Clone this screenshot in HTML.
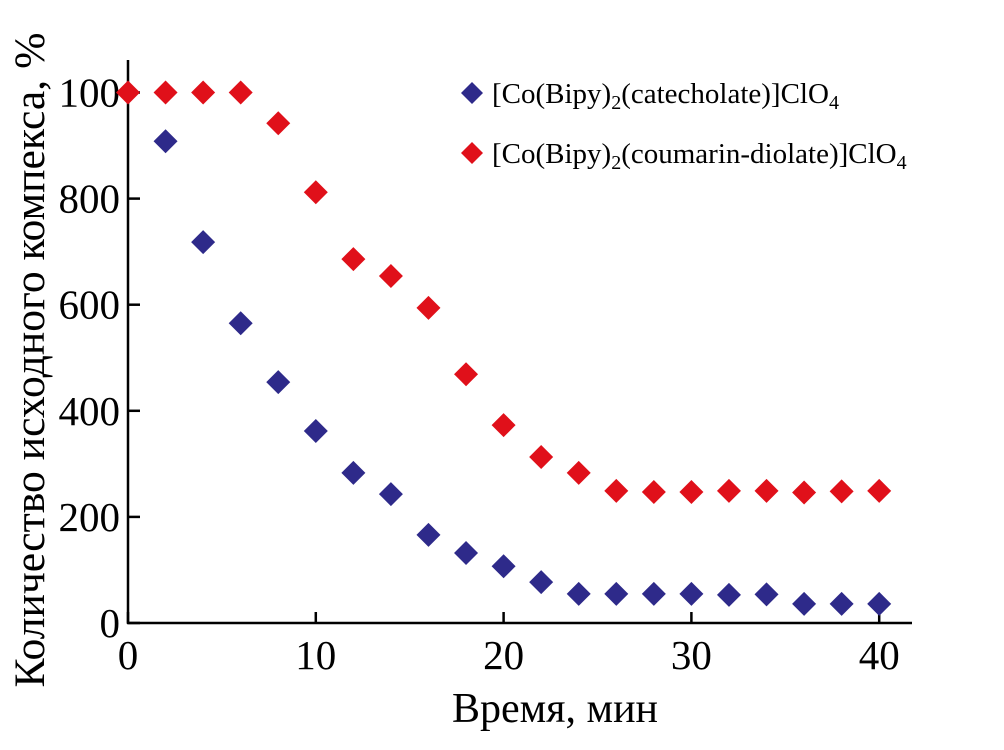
<!DOCTYPE html>
<html><head><meta charset="utf-8"><style>
html,body{margin:0;padding:0;background:#fff;}
svg{display:block;font-family:"Liberation Serif",serif;}
</style></head><body>
<svg id="chart" width="1004" height="750" viewBox="0 0 1004 750">
<g id="axes"></g>
<g id="marks"></g>
<text x="555" y="722" font-size="42" text-anchor="middle">Время, мин</text>
<text transform="translate(44,360) rotate(-90)" font-size="43" text-anchor="middle" textLength="655" lengthAdjust="spacingAndGlyphs">Количество исходного компекса, %</text>
<g>
<path d="M472,82 l11,11 l-11,11 l-11,-11z" fill="#2e2a8a"/>
<text x="492" y="103" font-size="29">[Co(Bipy)<tspan font-size="20" dy="6">2</tspan><tspan dy="-6">(catecholate)]ClO</tspan><tspan font-size="20" dy="6">4</tspan></text>
<path d="M472,142 l11,11 l-11,11 l-11,-11z" fill="#e0101a"/>
<text x="492" y="163" font-size="29">[Co(Bipy)<tspan font-size="20" dy="6">2</tspan><tspan dy="-6">(coumarin-diolate)]ClO</tspan><tspan font-size="20" dy="6">4</tspan></text>
</g>
</svg>
<script>
const xValues=[0,2,4,6,8,10,12,14,16,18,20,22,24,26,28,30,32,34,36,38,40];
const redValues=[1000,1000,1000,1000,942,812,686,654,594,469,373,313,283,249,247,247,249,249,246,248,249];
const blueX=[2,4,6,8,10,12,14,16,18,20,22,24,26,28,30,32,34,36,38,40];
const blueValues=[908,718,565,454,362,283,243,166,132,107,77,55,55,55,55,53,54,36,36,36];
const xTicks=[0,10,20,30,40];
const yTicks=[0,200,400,600,800,1000];
const yTickLabels=["0","200","400","600","800","100"];
const NS="http://www.w3.org/2000/svg";
const X=v=>128+v*18.78;
const Y=v=>623-v*0.5305;
const axes=document.getElementById('axes'),marks=document.getElementById('marks');
function mk(tag,attrs,parent){const e=document.createElementNS(NS,tag);for(const k in attrs)e.setAttribute(k,attrs[k]);parent.appendChild(e);return e;}
let l=mk('line',{x1:128,y1:60,x2:128,y2:624,stroke:'#000','stroke-width':2.5},axes);


l=mk('line',{x1:127,y1:623,x2:912,y2:623,stroke:'#000','stroke-width':2.5},axes);


xTicks.forEach(t=>{
 const tk=mk('line',{x1:X(t),y1:623,x2:X(t),y2:612,stroke:'#000','stroke-width':2.5},axes);
 
 
 const tx=mk('text',{x:X(t),y:669,'font-size':41,'text-anchor':'middle'},axes);
 tx.textContent=t;
 
 
});
yTicks.forEach((t,i)=>{
 const tk=mk('line',{x1:128,y1:Y(t),x2:140,y2:Y(t),stroke:'#000','stroke-width':2.5},axes);
 
 
 const tx=mk('text',{x:120,y:Y(t)+14,'font-size':41,'text-anchor':'end'},axes);
 tx.textContent=yTickLabels[i];
 
 
});
function diamond(x,y,c){return mk('path',{d:`M${x},${y-12} l12,12 l-12,12 l-12,-12z`,fill:c},marks);}
xValues.forEach((x,i)=>{
 const d=diamond(X(x),Y(redValues[i]),'#e0101a');
 
 
});
blueX.forEach((x,i)=>{
 const d=diamond(X(x),Y(blueValues[i]),'#2e2a8a');
 
 
});
</script>
</body></html>
